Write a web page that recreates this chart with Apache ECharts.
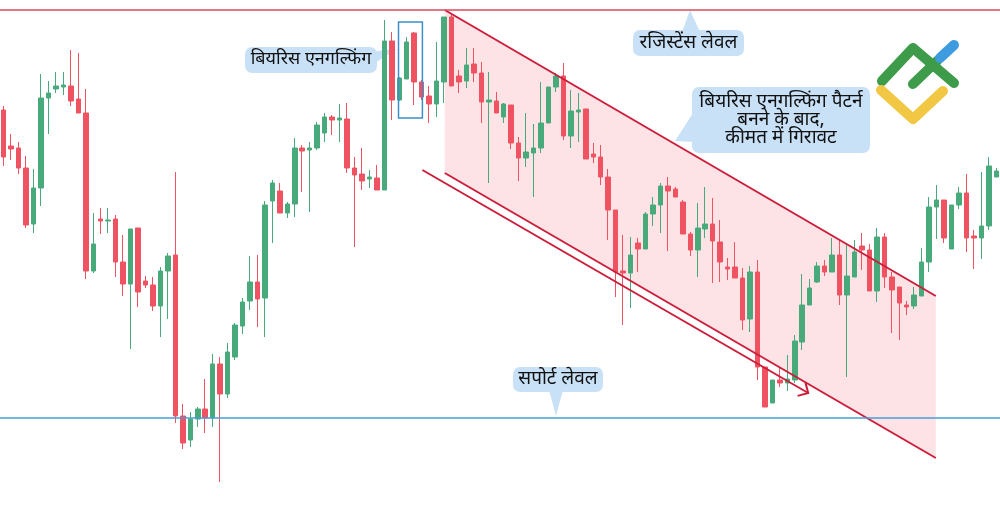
<!DOCTYPE html>
<html><head><meta charset="utf-8">
<script src="https://cdn.jsdelivr.net/npm/echarts@6/dist/echarts.min.js"></script>
<style>html,body{margin:0;padding:0;background:#fff}#c{width:1000px;height:508px}</style>
</head><body><div id="c"></div>
<script>
// ---- candle data (price units) ----
const opens  = [398,362,360,340,284,320,410,419,421,422,409,395,237,289,287,289,246,224,280,227,223,202,237,253,92,68,89,99,90,144,114,151,182,207,226,210,307,317,295,304,360,358,360,375,391,388,389,340,334,329,330,318,467,408,429,475,426,412,404,426,491,432,427,444,435,406,407,391,403,365,350,355,360,385,421,432,372,396,399,354,351,331,298,237,235,265,259,294,303,322,319,306,274,258,279,284,266,241,241,230,189,236,141,105,128,125,128,166,203,226,242,236,253,213,231,262,258,217,271,231,221,203,202,212,246,301,308,259,303,315,272,270,282,331];
const closes = [351,359,340,283,320,410,415,422,423,407,395,237,264,287,288,246,224,279,216,223,202,237,252,92,65,89,99,90,144,114,156,183,206,226,209,303,325,295,304,360,357,360,383,391,388,390,340,333,327,331,318,467,408,430,466,426,411,404,427,491,422,426,443,435,406,408,395,404,365,350,356,360,385,421,432,372,397,398,349,351,331,298,236,235,253,259,294,303,322,317,311,274,258,280,284,267,246,239,230,188,236,141,101,128,125,129,167,203,220,242,236,253,213,232,256,258,217,271,231,218,205,201,213,246,301,308,270,303,315,270,270,282,342,337];
const lows   = [342,348,334,280,275,302,374,415,413,402,395,229,235,274,275,231,212,159,201,220,197,171,189,85,59,61,81,75,81,26,110,148,174,198,181,171,265,295,290,291,316,296,358,366,373,366,335,261,318,320,318,318,388,407,429,403,408,385,391,405,422,415,420,426,385,325,395,385,359,327,341,311,355,385,416,368,360,366,349,345,323,268,211,183,200,236,259,282,275,257,311,274,252,231,270,225,226,228,230,178,176,128,101,105,121,117,125,158,203,225,232,236,203,131,231,238,217,206,220,175,168,193,199,212,236,269,265,259,299,256,239,249,278,331];
const highs  = [402,374,366,352,339,434,427,436,436,458,455,419,295,300,300,293,273,279,280,232,231,241,255,336,104,96,101,129,154,151,165,185,210,252,253,307,328,325,306,370,363,366,386,395,393,404,405,351,360,338,343,488,476,431,471,476,428,422,466,491,493,438,460,460,446,436,416,405,403,371,395,384,426,421,435,445,418,415,399,365,363,339,298,273,271,270,296,311,325,331,321,308,276,305,321,310,288,250,266,240,242,248,141,128,140,153,173,234,229,246,248,270,268,263,268,275,264,280,275,236,221,207,221,260,311,323,308,303,321,334,278,336,351,340];
const categories = opens.map((_, i) => String(i + 1));

// ---- levels and drawings, in [candle index, price] ----
const resistanceLevel = 498;
const supportLevel = 90;
const channelUpper = [[59.1, 498], [124.9, 212]];
const channelLower = [[59.1, 335], [124.9, 50]];
const arrowLine    = [[56.1, 338], [107.8, 115]];
const engulfBox    = [[52.9, 486], [56.1, 390]];

// ---- texts ----
const txtPattern  = 'बियरिस एनगल्फिंग';
const txtResist   = 'रजिस्टेंस लेवल';
const txtAfter    = ['बियरिस एनगल्फिंग पैटर्न', 'बनने के बाद,', 'कीमत में गिरावट'];
const txtSupport  = 'सपोर्ट लेवल';

const GREEN = '#48aa7b', RED = '#ef5361', LINE_RED = '#cc1d3a';
const BUBBLE = '#c8e1f7';
const FONT = '"Noto Sans Devanagari","Lohit Devanagari","FreeSans","Noto Sans",sans-serif';

const chart = echarts.init(document.getElementById('c'), null, {renderer: 'canvas'});

function bubble(x, y, w, h, pointer, lines, size, lh) {
  const children = [
    {type: 'rect', shape: {x, y, width: w, height: h, r: 7}, style: {fill: BUBBLE}},
    {type: 'polygon', shape: {points: pointer}, style: {fill: BUBBLE}}
  ];
  const n = lines.length;
  lines.forEach((t, k) => {
    children.push({type: 'text', style: {
      text: t, x: x + w / 2, y: y + h / 2 + 1 + (k - (n - 1) / 2) * lh,
      align: 'center', verticalAlign: 'middle',
      font: size + 'px ' + FONT, fill: '#111111'
    }});
  });
  return {type: 'group', z: 100, children};
}

const logo = {type: 'group', z: 100, children: [
  {type: 'polyline', shape: {points: [[882, 81], [913, 48], [954, 83]]},
   style: {stroke: '#3d9b49', lineWidth: 10, lineCap: 'round', lineJoin: 'round', fill: null}},
  {type: 'polyline', shape: {points: [[913, 84], [937, 61]]},
   style: {stroke: '#3d9b49', lineWidth: 10, lineCap: 'round', fill: null}},
  {type: 'polyline', shape: {points: [[940, 58], [954, 45]]},
   style: {stroke: '#3f9be0', lineWidth: 10, lineCap: 'round', fill: null}},
  {type: 'polyline', shape: {points: [[881, 90], [913, 119], [943, 91]]},
   style: {stroke: '#f2c744', lineWidth: 10, lineCap: 'round', lineJoin: 'round', fill: null}}
]};

chart.setOption({
  animation: false,
  backgroundColor: '#ffffff',
  grid: {left: 0, top: 0, width: 1002, height: 508, containLabel: false},
  xAxis: [
    {type: 'category', data: categories, show: false, boundaryGap: true},
    {type: 'value', min: -0.5, max: opens.length - 0.5, show: false}
  ],
  yAxis: {type: 'value', min: 0, max: 508, show: false},
  series: [
    {
      type: 'custom', xAxisIndex: 1, yAxisIndex: 0, z: 1, silent: true, data: [[0, 0]],
      renderItem: (p, api) => ({
        type: 'polygon',
        shape: {points: [channelUpper[0], channelUpper[1], channelLower[1], channelLower[0]].map(pt => api.coord(pt))},
        style: {fill: '#fde3e6'}
      })
    },
    {
      type: 'candlestick', xAxisIndex: 0, yAxisIndex: 0, z: 2, barWidth: 5,
      data: opens.map((o, i) => [o, closes[i], lows[i], highs[i]]),
      itemStyle: {color: GREEN, color0: RED, borderColor: GREEN, borderColor0: RED, borderWidth: 1},
      markLine: {
        silent: true, symbol: 'none', label: {show: false},
        data: [
          {yAxis: resistanceLevel, lineStyle: {color: '#db4a5c', width: 1.5, type: 'solid'}},
          {yAxis: supportLevel, lineStyle: {color: '#4a9ed6', width: 1.5, type: 'solid'}}
        ]
      }
    },
    {
      type: 'custom', xAxisIndex: 1, yAxisIndex: 0, z: 3, silent: true, data: [[0, 0]],
      renderItem: (p, api) => {
        const u0 = api.coord(channelUpper[0]), u1 = api.coord(channelUpper[1]);
        const l0 = api.coord(channelLower[0]), l1 = api.coord(channelLower[1]);
        const a0 = api.coord(arrowLine[0]), a1 = api.coord(arrowLine[1]);
        const b0 = api.coord(engulfBox[0]), b1 = api.coord(engulfBox[1]);
        const dx = a1[0] - a0[0], dy = a1[1] - a0[1], len = Math.hypot(dx, dy);
        const bx = -dx / len, by = -dy / len, th = 45 * Math.PI / 180, al = 11;
        const arm = s => [a1[0] + al * (bx * Math.cos(s * th) - by * Math.sin(s * th)),
                          a1[1] + al * (bx * Math.sin(s * th) + by * Math.cos(s * th))];
        const ls = {stroke: LINE_RED, lineWidth: 2, fill: null};
        return {type: 'group', children: [
          {type: 'line', shape: {x1: u0[0], y1: u0[1], x2: u1[0], y2: u1[1]}, style: ls},
          {type: 'line', shape: {x1: l0[0], y1: l0[1], x2: l1[0], y2: l1[1]}, style: ls},
          {type: 'line', shape: {x1: a0[0], y1: a0[1], x2: a1[0], y2: a1[1]}, style: ls},
          {type: 'polyline', shape: {points: [arm(1), a1, arm(-1)]}, style: ls},
          {type: 'rect', shape: {x: b0[0], y: b0[1], width: b1[0] - b0[0], height: b1[1] - b0[1]},
           style: {stroke: '#3d8fcc', lineWidth: 1.5, fill: null}}
        ]};
      }
    }
  ],
  graphic: [
    bubble(245, 47, 132, 26, [[366, 52], [370, 66], [397, 49]], [txtPattern], 18, 18),
    bubble(633, 30, 111, 26, [[682, 32], [700, 32], [690, 10]], [txtResist], 19, 18),
    bubble(692, 87, 178, 66, [[695, 110], [695, 142], [675, 141]], txtAfter, 19, 18),
    bubble(513, 367, 90, 25, [[549, 390], [563, 390], [556, 416]], [txtSupport], 19, 18),
    logo
  ]
});
</script></body></html>
